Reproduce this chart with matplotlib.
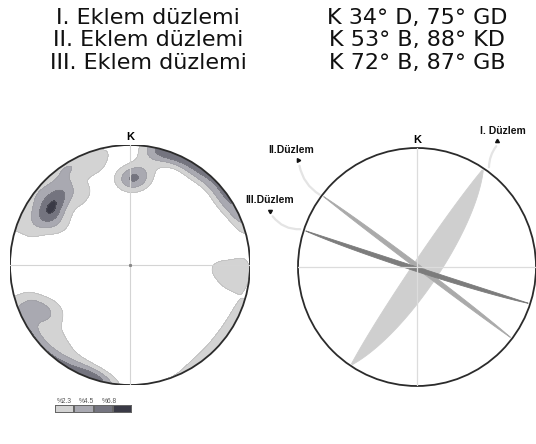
import numpy as np
import matplotlib
matplotlib.use("Agg")
import matplotlib.pyplot as plt
from matplotlib.colors import ListedColormap, BoundaryNorm
from matplotlib.patches import Circle, FancyArrowPatch
from matplotlib.lines import Line2D

# ---------------- data ----------------
plane_names = ["I. Eklem düzlemi", "II. Eklem düzlemi", "III. Eklem düzlemi"]
plane_attitudes = ["K 34° D, 75° GD", "K 53° B, 88° KD", "K 72° B, 87° GB"]
plane_labels = ["I. Düzlem", "II.Düzlem", "III.Düzlem"]
dip_dirs = [124, 37, 198]          # dip direction (deg)
dips = [75, 88, 87]                # dip (deg)
lens_dips = [(75, 93), (88, 91), (87, 90)]   # band drawn for each plane

# poles to joints: trend, plunge and number of measurements
pole_trend = [
    # upper-left cluster (pole of plane I)
    304, 312, 318, 300, 308, 322, 296,
    290, 330, 340, 345, 330, 285, 320, 300,
    # northern cluster
    2, 6, 358, 10, 14,
    # NE rim band
    14, 21, 28, 35, 42, 49, 56, 63, 69,
    35, 55,
    # SW cluster
    246, 242, 240, 236, 225, 215, 205, 198,
    # eastern lobe
    93, 95, 92, 100, 92, 96,
    # SE rim band
    112, 120, 128, 136, 144,
]
pole_plunge = [
    21, 18, 22, 28, 8, 12, 14,
    6, 4, 15, 4, 30, 18, 40, 38,
    29, 24, 33, 14, 5,
    1, 1, 1, 1, 1, 1, 1, 1, 1,
    9, 10,
    12, 24, 20, 32, 18, 14, 8, 4,
    24, 14, 4, 20, 34, 9,
    4, 3, 4, 3, 2,
]
pole_count = [
    12, 6, 6, 5, 6, 5, 5,
    3, 6, 5, 5, 4, 2, 3, 3,
    12, 4, 2, 4, 4,
    6, 6, 6, 6, 6, 6, 6, 5, 4,
    3, 3,
    10, 4, 4, 3, 4, 3, 3, 4,
    4, 4, 4, 2, 3, 3,
    3, 3, 3, 3, 3,
]

contour_levels = [2.3, 4.5, 6.8, 9.0]
level_labels = ["%2.3", "%4.5", "%6.8"]
fill_colors = ["#d3d3d3", "#a9a9b1", "#74747f", "#3a3a46"]

# ---------------- helpers ----------------
def to_vec(trend, plunge):
    t, p = np.radians(trend), np.radians(plunge)
    return np.stack([np.cos(p) * np.sin(t), np.cos(p) * np.cos(t), np.sin(p)], axis=-1)

def project(vec):
    vec = np.where(vec[..., 2:3] < 0, -vec, vec)
    plunge = np.arcsin(np.clip(vec[..., 2], -1, 1))
    trend = np.arctan2(vec[..., 0], vec[..., 1])
    r = np.sqrt(2) * np.sin((np.pi / 2 - plunge) / 2)
    return r * np.sin(trend), r * np.cos(trend)

def great_circle(dipdir, dip, rake0=2, rake1=178, n=200):
    s = to_vec(dipdir - 90, 0)
    d = np.array([np.cos(np.radians(dip)) * np.sin(np.radians(dipdir)),
                  np.cos(np.radians(dip)) * np.cos(np.radians(dipdir)),
                  np.sin(np.radians(dip))])
    lam = np.radians(np.linspace(rake0, rake1, n))
    v = np.cos(lam)[:, None] * s[None, :] + np.sin(lam)[:, None] * d[None, :]
    return project(v)

W, H = 536, 444
fig = plt.figure(figsize=(W / 100, H / 100), dpi=100)

def px(x, y):
    return x / W, 1 - y / H

def add_net(cx, cy, r):
    ax = fig.add_axes([(cx - r) / W, 1 - (cy + r) / H, 2 * r / W, 2 * r / H])
    ax.set_xlim(-1, 1)
    ax.set_ylim(-1, 1)
    ax.set_aspect("equal")
    ax.axis("off")
    return ax

# ---------------- header ----------------
for i, (nm, att) in enumerate(zip(plane_names, plane_attitudes)):
    y = 24 + i * 22.3
    fig.text(*px(148, y), nm, ha="center", va="baseline", fontsize=16,
             family="DejaVu Sans", color="#111111")
    fig.text(*px(417, y), att, ha="center", va="baseline", fontsize=16,
             family="DejaVu Sans", color="#111111")

# ---------------- left: density diagram ----------------
axL = add_net(130, 265, 120)
n = 361
gx, gy = np.meshgrid(np.linspace(-1, 1, n), np.linspace(-1, 1, n))
rr = np.hypot(gx, gy)
rc = np.clip(rr, 0, 1)
gpl = np.pi / 2 - 2 * np.arcsin(rc / np.sqrt(2))
gtr = np.arctan2(gx, gy)
gvec = np.stack([np.cos(gpl) * np.sin(gtr), np.cos(gpl) * np.cos(gtr), np.sin(gpl)], axis=-1)
pv = to_vec(np.array(pole_trend, float), np.array(pole_plunge, float))
w = np.array(pole_count, float)
k = 70.0
cosang = np.abs(gvec @ pv.T)
# percentage of poles inside the (smoothed) counting window
dens = 100.0 * (np.exp(k * (cosang - 1)) * w).sum(axis=-1) / w.sum()
dens = np.where(rr <= 1.0, dens, np.nan)

cmap = ListedColormap(fill_colors)
bounds = contour_levels + [1000]
norm = BoundaryNorm(bounds, cmap.N)
clip = Circle((0, 0), 1, transform=axL.transData)
cf = axL.contourf(gx, gy, dens, levels=bounds, cmap=cmap, norm=norm)
cf.set_clip_path(clip)
cl = axL.contour(gx, gy, dens, levels=contour_levels, colors="#8a8a8a", linewidths=0.3, alpha=0.5)
cl.set_clip_path(clip)
axL.plot([-1, 1], [0, 0], color="#d4d4d4", lw=0.8)
axL.plot([0, 0], [-1, 1], color="#d4d4d4", lw=0.8)
axL.plot([0], [0], marker="s", ms=1.2, color="#888888")
axL.add_patch(Circle((0, 0), 1, fill=False, ec="#2b2b2b", lw=1.3))
axL.text(0, 1.025, "K", ha="center", va="bottom", fontsize=8, fontweight="bold",
         family="Liberation Sans")

# ---------------- right: great circles ----------------
axR = add_net(417, 267, 119)
axR.plot([-1, 1], [0, 0], color="#dcdcdc", lw=0.9)
axR.plot([0, 0], [-1, 1], color="#dcdcdc", lw=0.9)
band_colors = ["#cfcfcf", "#aaaaaa", "#7c7c7c"]
for (d0, d1), ddir, col in zip(lens_dips, dip_dirs, band_colors):
    x0, y0 = great_circle(ddir, d0)
    x1, y1 = great_circle(ddir, d1)
    axR.fill(np.concatenate([x0, x1[::-1]]), np.concatenate([y0, y1[::-1]]),
             color=col, lw=0.6, ec=col)
axR.add_patch(Circle((0, 0), 1, fill=False, ec="#2b2b2b", lw=1.3, clip_on=False))
axR.text(0, 1.025, "K", ha="center", va="bottom", fontsize=8, fontweight="bold",
         family="Liberation Sans")

# labels with leaders (pixel positions in the figure)
label_pos = [(503, 131), (291, 150), (270, 200)]
arrow_pos = [(497, 141), (298, 160), (270, 211)]
arrow_angle = [210, 0, 270]
leader_end = [(489, 170), (322, 196), (303, 229)]
leader_rad = [0.2, 0.25, 0.3]
for lab, lp, ap, ang, le, rad in zip(plane_labels, label_pos, arrow_pos, arrow_angle,
                                     leader_end, leader_rad):
    fig.text(*px(*lp), lab, ha="center", va="center", fontsize=7.5, fontweight="bold",
             family="Liberation Sans", color="#111111")
    fig.patches.append(FancyArrowPatch(
        px(ap[0] + 1, ap[1] + 3), px(*le), transform=fig.transFigure,
        arrowstyle="-", connectionstyle=f"arc3,rad={rad}", color="#e4e4e4", lw=1.6))
    fig.lines.append(Line2D([px(*ap)[0]], [px(*ap)[1]],
                     transform=fig.transFigure, marker=(3, 0, ang - 90), ms=3.2,
                     color="#111111", ls="none"))

# ---------------- legend bar ----------------
axC = fig.add_axes([55 / W, 1 - 413 / H, 77 / W, 8 / H])
axC.pcolormesh(np.arange(5), [0, 1], np.array([contour_levels]) + 0.01, cmap=cmap, norm=norm,
               edgecolors="#666666", linewidth=0.3)
axC.set_xlim(0, 4)
axC.axis("off")
for i, lab in enumerate(level_labels):
    fig.text(*px(64 + i * 22.5, 401), lab, ha="center", va="center", fontsize=4.8,
             color="#555555", family="Liberation Sans")

fig.savefig("out.png", dpi=100, facecolor="white")
